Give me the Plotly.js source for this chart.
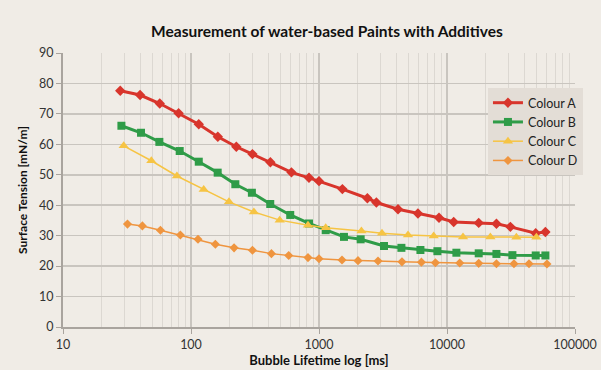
<!DOCTYPE html>
<html><head><meta charset="utf-8">
<script src="https://cdn.plot.ly/plotly-3.0.1.min.js"></script>
<style>html,body{margin:0;padding:0;background:#f0ece6;}#chart{width:601px;height:370px;}</style>
</head><body><div id="chart"></div>
<script>
const aX = [28, 40, 57, 80, 115, 162, 226, 302, 417, 609, 835, 1000, 1523, 2388, 2808, 4142, 5929, 8659, 11280, 17690, 24330, 31290, 49320, 58700];
const aY = [77.6, 76.2, 73.4, 70.2, 66.6, 62.5, 59.2, 56.8, 54.1, 50.8, 49.0, 47.9, 45.3, 42.3, 40.9, 38.7, 37.3, 35.9, 34.5, 34.2, 33.9, 32.9, 30.8, 31.2];
const bX = [28.6, 40.7, 56.6, 81.6, 115, 161.6, 222, 299, 416, 596, 835, 1128, 1567, 2116, 3221, 4404, 6200, 8414, 11840, 17690, 24330, 32430, 49320, 58700];
const bY = [66.1, 63.8, 60.8, 57.8, 54.3, 50.7, 46.9, 44.1, 40.4, 36.8, 34.0, 31.8, 29.6, 28.8, 26.6, 26.0, 25.3, 24.9, 24.4, 24.2, 24.0, 23.6, 23.5, 23.5];
const cX = [29.8, 49, 77.6, 125.7, 198, 310, 493, 820, 1128, 2145, 3105, 4960, 7870, 13340, 21820, 34830, 49930];
const cY = [59.5, 54.6, 49.6, 45.2, 41.1, 37.8, 35.1, 33.4, 32.6, 31.5, 30.8, 30.2, 29.9, 29.6, 29.6, 29.5, 29.5];
const dX = [31.9, 41.7, 57.7, 82.6, 113.4, 155, 217, 302, 425, 580, 820, 1000, 1513, 2017, 2891, 4448, 6310, 8117, 12570, 17690, 24330, 33360, 43720, 60400];
const dY = [33.8, 33.2, 31.8, 30.2, 28.8, 27.2, 26.0, 25.2, 24.1, 23.5, 22.8, 22.4, 22.0, 21.8, 21.7, 21.4, 21.3, 21.1, 21.0, 20.9, 20.8, 20.8, 20.8, 20.7];
const names = ["Colour A", "Colour B", "Colour C", "Colour D"];
const yTicks = [0, 10, 20, 30, 40, 50, 60, 70, 80, 90];
const xTicks = [10, 100, 1000, 10000, 100000];

const traces = [
  {x: aX, y: aY, name: names[0], mode: "lines+markers",
   line: {color: "#d8352c", width: 3}, marker: {symbol: "diamond", size: 8, color: "#d8352c"}},
  {x: bX, y: bY, name: names[1], mode: "lines+markers",
   line: {color: "#2f9c48", width: 3}, marker: {symbol: "square", size: 8, color: "#2f9c48"}},
  {x: cX, y: cY, name: names[2], mode: "lines+markers",
   line: {color: "#f6c444", width: 1.5}, marker: {symbol: "triangle-up", size: 9, color: "#f6c444"}},
  {x: dX, y: dY, name: names[3], mode: "lines+markers",
   line: {color: "#ef953f", width: 1.5}, marker: {symbol: "diamond", size: 7, color: "#ef953f"}}
];

const layout = {
  width: 601, height: 370,
  margin: {l: 63, r: 26, t: 53, b: 43},
  paper_bgcolor: "#f0ece6", plot_bgcolor: "#f0ece6",
  font: {family: "Lato, 'DejaVu Sans', sans-serif", size: 12, color: "#333333"},
  title: {text: "<b>Measurement of water-based Paints with Additives</b>",
          font: {size: 15.5, color: "#111111"}, x: 0.544, xanchor: "center", y: 0.915, yanchor: "middle"},
  xaxis: {type: "log", range: [1, 5], tickvals: xTicks, ticktext: xTicks.map(String),
          showgrid: true, gridcolor: "#c9c5bf", gridwidth: 1.5,
          minor: {dtick: "D1", showgrid: true, gridcolor: "#dcd8d2", gridwidth: 1, ticks: ""},
          showline: true, linecolor: "#a9a49e", linewidth: 2, ticks: "outside", ticklen: 5, tickcolor: "#a9a49e",
          zeroline: false, tickfont: {size: 12.5},
          title: {text: "<b>Bubble Lifetime log [ms]</b>", font: {size: 13, color: "#111111"}, standoff: 3}},
  yaxis: {range: [0, 90], tickvals: yTicks, showgrid: true, gridcolor: "#c9c5bf", gridwidth: 1.5,
          showline: true, linecolor: "#a9a49e", linewidth: 2, ticks: "outside", ticklen: 5, tickcolor: "#a9a49e",
          zeroline: false, tickfont: {size: 12.5},
          title: {text: "<b>Surface Tension [mN/m]</b>", font: {size: 12, color: "#111111"}, standoff: 9}},
  legend: {x: 0.83, y: 0.872, xanchor: "left", yanchor: "top", bgcolor: "#e3ddd6",
           font: {size: 12.5, color: "#222222"}, itemwidth: 30, tracegroupgap: 0},
  showlegend: true
};

Plotly.newPlot("chart", traces, layout, {displayModeBar: false, staticPlot: true});
</script></body></html>
